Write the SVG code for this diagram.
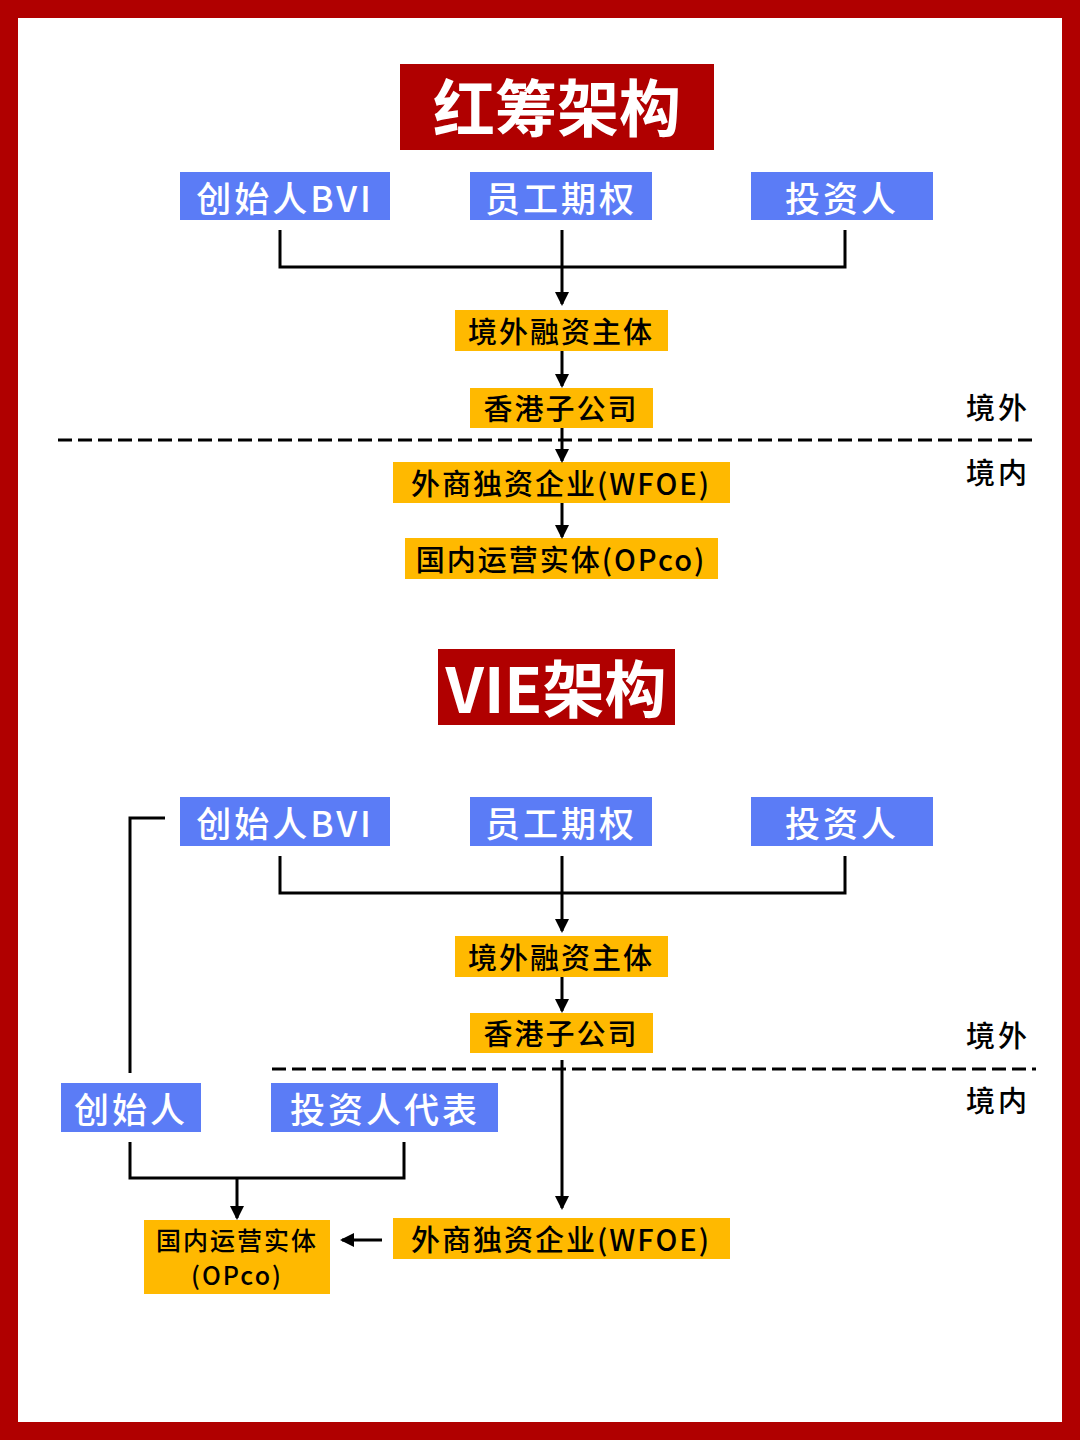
<svg xmlns="http://www.w3.org/2000/svg" width="1080" height="1440" viewBox="0 0 1080 1440">
<defs>
<marker id="ah" markerWidth="14" markerHeight="14" refX="12" refY="7" orient="auto" markerUnits="userSpaceOnUse" viewBox="0 0 14 14"><path d="M0,0 L14,7 L0,14 z" fill="#000"/></marker>
<style>
text{font-family:"Noto Sans CJK SC","Noto Sans",sans-serif;text-anchor:middle;dominant-baseline:central}
.t{fill:#b00000}.tt{fill:#fff;font-size:62px;font-weight:bold}
.b{fill:#5b7cf6}.bt{fill:#fff;font-size:35px;letter-spacing:3px;font-weight:500}
.y{fill:#ffb900}.yt{fill:#000;font-size:29px;letter-spacing:2px;font-weight:500}
.s{fill:#000;font-size:29px;letter-spacing:3px;font-weight:500}
.l{fill:none;stroke:#000;stroke-width:3}
.d{fill:none;stroke:#000;stroke-width:3;stroke-dasharray:14,6}
</style>
</defs>
<rect width="1080" height="1440" fill="#b00000"/>
<rect x="18" y="18" width="1044" height="1404" fill="#fff"/>
<g id="title1"><rect class="t" x="400" y="64" width="314" height="86"/><text class="tt" x="557" y="105">红筹架构</text></g>
<g id="a_bvi"><rect class="b" x="180" y="172" width="210" height="48"/><text class="bt" x="285" y="196">创始人BVI</text></g>
<g id="a_esop"><rect class="b" x="470" y="172" width="182" height="48"/><text class="bt" x="561" y="196">员工期权</text></g>
<g id="a_inv"><rect class="b" x="751" y="172" width="182" height="48"/><text class="bt" x="842" y="196">投资人</text></g>
<g id="a_off"><rect class="y" x="455" y="310" width="213" height="41"/><text class="yt" x="561" y="330">境外融资主体</text></g>
<g id="a_hk"><rect class="y" x="470" y="388" width="183" height="40"/><text class="yt" x="561" y="407">香港子公司</text></g>
<g id="a_wfoe"><rect class="y" x="393" y="462" width="337" height="41"/><text class="yt" x="561" y="482">外商独资企业(WFOE)</text></g>
<g id="a_opco"><rect class="y" x="405" y="538" width="313" height="41"/><text class="yt" x="561" y="558">国内运营实体(OPco)</text></g>
<g id="labels1"><text class="s" x="998" y="406">境外</text><text class="s" x="998" y="471">境内</text></g>
<g id="title2"><rect class="t" x="438" y="649" width="237" height="76"/><text class="tt" x="556" y="686">VIE架构</text></g>
<g id="b_bvi"><rect class="b" x="180" y="797" width="210" height="49"/><text class="bt" x="285" y="821">创始人BVI</text></g>
<g id="b_esop"><rect class="b" x="470" y="797" width="182" height="49"/><text class="bt" x="561" y="821">员工期权</text></g>
<g id="b_inv"><rect class="b" x="751" y="797" width="182" height="49"/><text class="bt" x="842" y="821">投资人</text></g>
<g id="b_off"><rect class="y" x="455" y="936" width="213" height="41"/><text class="yt" x="561" y="956">境外融资主体</text></g>
<g id="b_hk"><rect class="y" x="470" y="1013" width="183" height="40"/><text class="yt" x="561" y="1032">香港子公司</text></g>
<g id="b_wfoe"><rect class="y" x="393" y="1218" width="337" height="41"/><text class="yt" x="561" y="1238">外商独资企业(WFOE)</text></g>
<g id="b_founder"><rect class="b" x="61" y="1083" width="140" height="49"/><text class="bt" x="131" y="1107">创始人</text></g>
<g id="b_rep"><rect class="b" x="271" y="1083" width="227" height="49"/><text class="bt" x="385" y="1107">投资人代表</text></g>
<g id="b_opco"><rect class="y" x="144" y="1220" width="186" height="74"/><text class="yt" x="237" y="1239" style="font-size:25px">国内运营实体</text><text class="yt" x="237" y="1274" style="font-size:25px">(OPco)</text></g>
<g id="labels2"><text class="s" x="998" y="1034">境外</text><text class="s" x="998" y="1099">境内</text></g>
<g id="connectors">
<path class="l" d="M280,230 V267 H845 V230"/>
<path class="l" d="M562,230 V304" marker-end="url(#ah)"/>
<path class="l" d="M562,351 V386" marker-end="url(#ah)"/>
<path class="l" d="M562,428 V461" marker-end="url(#ah)"/>
<path class="l" d="M562,503 V537" marker-end="url(#ah)"/>
<path class="d" d="M58,440 H1036"/>
<path class="l" d="M280,856 V893 H845 V856"/>
<path class="l" d="M562,856 V931" marker-end="url(#ah)"/>
<path class="l" d="M562,977 V1011" marker-end="url(#ah)"/>
<path class="l" d="M562,1060 V1208" marker-end="url(#ah)"/>
<path class="d" d="M272,1069 H1036"/>
<path class="l" d="M165,818 H130 V1073"/>
<path class="l" d="M130,1142 V1178 H404 V1142"/>
<path class="l" d="M237,1178 V1218" marker-end="url(#ah)"/>
<path class="l" d="M382,1240 H342" marker-end="url(#ah)"/>
</g>
</svg>
